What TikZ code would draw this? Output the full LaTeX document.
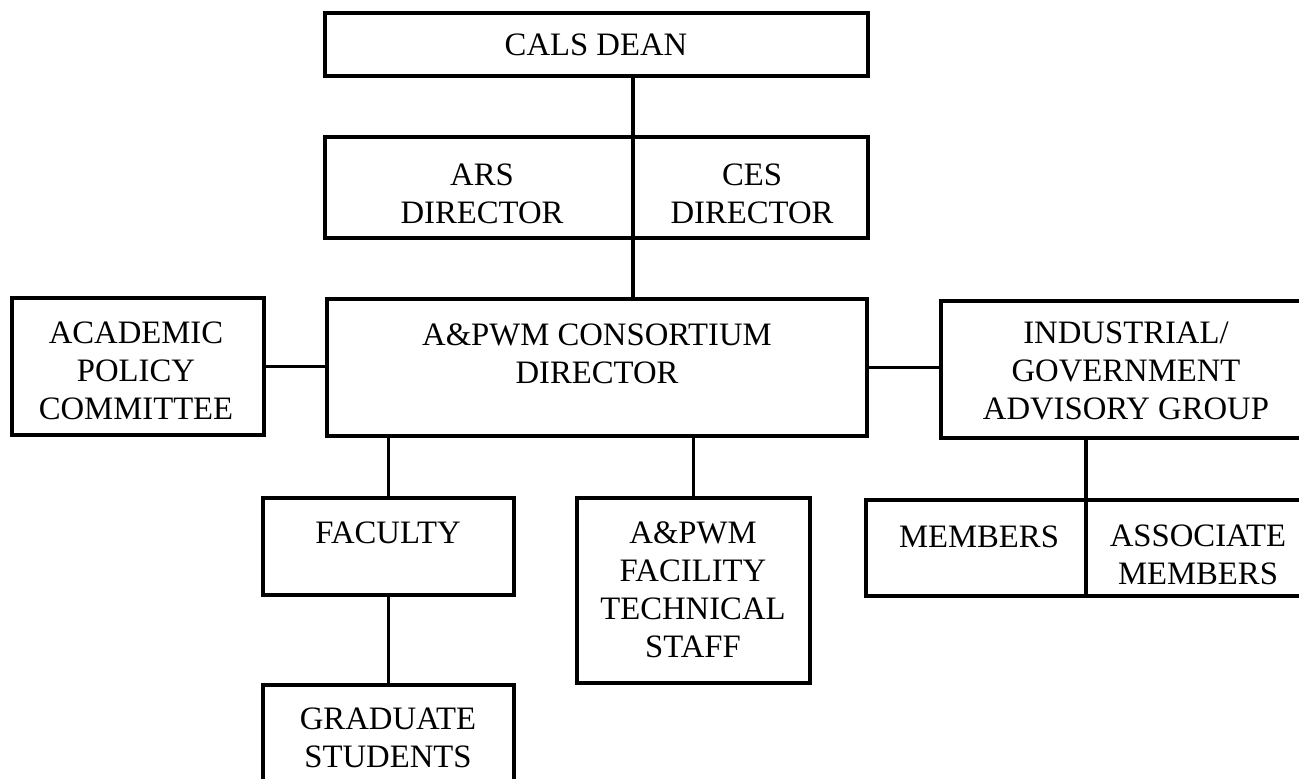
\documentclass[tikz,border=0pt]{standalone}
\usepackage{fontspec}
\setmainfont{Liberation Serif}
\usetikzlibrary{calc}

\begin{document}
\begin{tikzpicture}[x=0.01cm, y=-0.01cm,
    orgbox/.style={draw, line width=0.9pt, inner sep=0pt, outer sep=0pt},
    orgline/.style={line width=0.9pt},
    orgtext/.style={align=center, inner sep=0pt, font=\fontsize{9.3}{10.8}\selectfont}]
                \useasboundingbox (0,0) rectangle (1299,778);

                % Draw a box with name 1 from corner (2,3) to corner (4,5)
                \def\orgBox#1#2#3#4#5{
                    \node[orgbox, minimum width={(#4-#2)*0.01cm}, minimum height={(#5-#3)*0.01cm}]
                        (#1) at ({(#2+#4)/2},{(#3+#5)/2}) {};
                }

                \orgBox{dean}{325}{13}{868}{76}
                \orgBox{dirs}{325}{137}{868}{238}
                \orgBox{cons}{327}{299}{867}{436}
                \orgBox{acad}{12}{298}{264}{435}
                \orgBox{indu}{941}{301}{1311}{438}
                \orgBox{fac}{263}{498}{514}{595}
                \orgBox{tech}{577}{498}{810}{683}
                \orgBox{memb}{866}{500}{1311}{596}
                \orgBox{grad}{263}{685}{514}{830}

                \coordinate (spine) at (633,0);
                \coordinate (split) at (1086,0);

                \node[orgtext] (t-dean) at (596,45) {CALS DEAN};
                \node[orgtext] (t-ars) at (482,194) {ARS\\DIRECTOR};
                \node[orgtext] (t-ces) at (752,194) {CES\\DIRECTOR};
                \node[orgtext] (t-cons) at (597,354) {A\&PWM CONSORTIUM\\DIRECTOR};
                \node[orgtext] (t-acad) at (136,371) {ACADEMIC\\POLICY\\COMMITTEE};
                \node[orgtext] (t-indu) at (1126,371) {INDUSTRIAL/\\GOVERNMENT\\ADVISORY GROUP};
                \node[orgtext] (t-fac) at (388,533) {FACULTY};
                \node[orgtext] (t-tech) at (693,590) {A\&PWM\\FACILITY\\TECHNICAL\\STAFF};
                \node[orgtext] (t-memb) at (979,537) {MEMBERS};
                \node[orgtext] (t-assoc) at (1198,555) {ASSOCIATE\\MEMBERS};
                \node[orgtext] (t-grad) at (388,738) {GRADUATE\\STUDENTS};

                % connectors, the spine also splits the director box
                \draw[orgline] (dean.south -| spine) -- (cons.north -| spine);
                \draw[orgline] (acad.east) -- (acad.east -| cons.west);
                \draw[orgline] (cons.east) -- (cons.east -| indu.west);
                \draw[orgline] (fac.north) -- (fac.north |- cons.south);
                \draw[orgline] (tech.north) -- (tech.north |- cons.south);
                \draw[orgline] (grad.north) -- (grad.north |- fac.south);
                \draw[orgline] (indu.south -| split) -- (memb.south -| split);
            \end{tikzpicture}
\end{document}
